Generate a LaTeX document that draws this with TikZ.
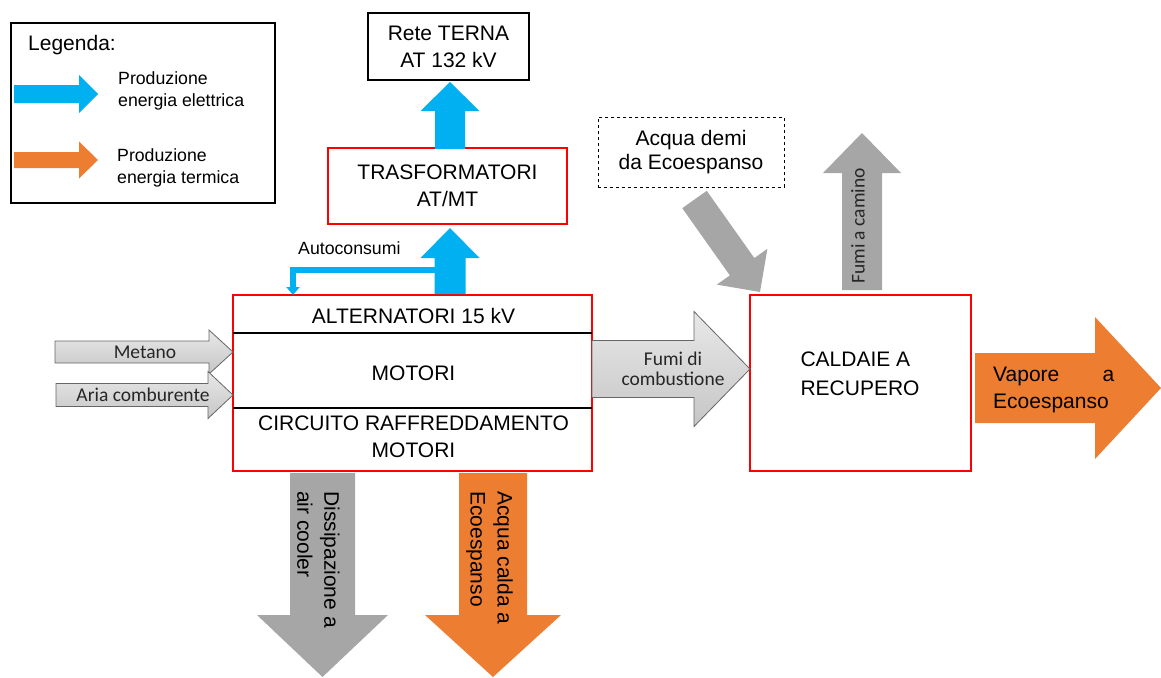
\documentclass[tikz,border=0pt]{standalone}
\usepackage{fontspec}
\setmainfont{Liberation Sans}
\newfontfamily\calibfont{Carlito}
\usetikzlibrary{positioning,calc,arrows.meta}

\definecolor{elettrico}{HTML}{00B0F0}
\definecolor{termico}{HTML}{ED7D31}
\definecolor{grigio}{HTML}{A6A6A6}
\definecolor{rosso}{HTML}{FF0000}

\tikzset{
  boxtxt/.style={font=\fontsize{21}{27}\selectfont, align=center},
  redbox/.style={draw=rosso, line width=2pt, inner sep=0pt, outer sep=0pt},
  smalltxt/.style={font=\fontsize{17.7}{22}\selectfont, align=left, inner sep=0pt},
  caltxt/.style={font=\calibfont\fontsize{19.5}{20}\selectfont, align=center, text=black!85, inner sep=0pt},
  gasarrow/.style={top color=gray!18, bottom color=gray!45, draw=gray!80!black, line width=0.8pt},
  flatgray/.style={fill=grigio},
  elarrow/.style={fill=elettrico},
  termarrow/.style={fill=termico},
}

% freccia piena: stile, da, a, mezzo fusto, mezza punta, lunghezza punta
\newcommand{\flowarrow}[6]{%
  \coordinate (fa-base) at ($(#3)!#6pt!(#2)$);
  \path[#1] ($(#2)!#4pt!90:(#3)$) -- ($(fa-base)!#4pt!90:(#3)$)
    -- ($(fa-base)!#5pt!90:(#3)$) -- (#3)
    -- ($(fa-base)!#5pt!-90:(#3)$) -- ($(fa-base)!#4pt!-90:(#3)$)
    -- ($(#2)!#4pt!-90:(#3)$) -- cycle;
}

\begin{document}
\begin{tikzpicture}[x=1pt, y=-1pt]
  \useasboundingbox (0,0) rectangle (1161,677);

  % 1. blocchi principali
  \node[redbox, minimum width=359pt, minimum height=176pt] (motori) at (412.5,383) {};
  \node[redbox, boxtxt, minimum width=239pt, minimum height=76pt,
        above=71pt of motori, xshift=35pt] (trasf) {TRASFORMATORI\\AT/MT};
  \node[draw, line width=2pt, outer sep=0pt, boxtxt, minimum width=161pt, minimum height=67pt,
        above=68pt of trasf, xshift=1pt] (rete) {Rete TERNA\\AT 132 kV};
  \node[redbox, minimum width=221pt, minimum height=176pt, right=158pt of motori] (caldaie) {};
  \node[draw, dashed, line width=1pt, outer sep=0pt, minimum width=186pt, minimum height=70pt,
        font=\fontsize{21}{24}\selectfont, align=center] (demi) at (691,152) {Acqua demi\\da Ecoespanso};

  % sezioni del blocco motori
  \draw[line width=1.6pt] (motori.west |- 0,333) -- (motori.east |- 0,333);
  \draw[line width=1.6pt] (motori.west |- 0,408) -- (motori.east |- 0,408);
  \node[boxtxt] (t-alt) at (413.5,316) {ALTERNATORI 15 kV};
  \node[boxtxt] (t-mot) at (413.5,373) {MOTORI};
  \node[boxtxt] (t-circ) at (413.5,437) {CIRCUITO RAFFREDDAMENTO\\MOTORI};
  \node[boxtxt, align=left, anchor=west, font=\fontsize{21}{29}\selectfont] (t-cald) at (797,374) {CALDAIE A\\RECUPERO};

  % 2. legenda
  \node[draw, line width=1.2pt, minimum width=264pt, minimum height=180pt] (legenda) at (143,113) {};
  \node[boxtxt, anchor=west, inner sep=0pt] (t-leg) at (28,45) {Legenda:};
  \coordinate (leg-el-a) at (14,94);   \coordinate (leg-el-b) at (98,94);
  \coordinate (leg-th-a) at (14,160);  \coordinate (leg-th-b) at (98,160);
  \flowarrow{elarrow}{leg-el-a}{leg-el-b}{9}{19}{19}
  \flowarrow{termarrow}{leg-th-a}{leg-th-b}{8}{18.5}{19}
  \node[smalltxt, anchor=west] (t-leg-el) at (118,91) {Produzione\\energia elettrica};
  \node[smalltxt, anchor=west] (t-leg-th) at (117,168) {Produzione\\energia termica};

  % 3. frecce elettriche
  \coordinate (el1-a) at (450,294);  \coordinate (el1-b) at (450,228);
  \coordinate (el2-a) at (450,149);  \coordinate (el2-b) at (450,82);
  \flowarrow{elarrow}{el1-a}{el1-b}{15.5}{29.5}{30}
  \flowarrow{elarrow}{el2-a}{el2-b}{15}{29.5}{29}
  \coordinate (autoc-a) at (440,270);  \coordinate (autoc-b) at (293,295);
  \draw[elettrico, line width=6pt, -{Triangle[width=13pt, length=8pt]}] (autoc-a) -| (autoc-b);
  \node[smalltxt, anchor=west] (t-autoc) at (298,248) {Autoconsumi};

  % 4. ingressi e fumi
  \coordinate (metano-a) at (55,352);  \coordinate (metano-b) at (motori.west |- 0,352);
  \coordinate (aria-a) at (56,395);    \coordinate (aria-b) at (motori.west |- 0,395);
  \coordinate (fumi-a) at (motori.east |- 0,369);  \coordinate (fumi-b) at (caldaie.west |- 0,369);
  \flowarrow{gasarrow}{metano-a}{metano-b}{11}{22}{24}
  \flowarrow{gasarrow}{aria-a}{aria-b}{11.5}{23.5}{25}
  \flowarrow{gasarrow}{fumi-a}{fumi-b}{28.5}{57.5}{56}
  \node[caltxt] (t-metano) at (145,352) {Metano};
  \node[caltxt] (t-aria) at (143,395) {Aria comburente};
  \node[caltxt] (t-fumi) at (673,369) {Fumi di\\combustione};

  % 5. caldaie: acqua demi, camino, vapore
  \coordinate (demi-a) at (694.5,199.5);  \coordinate (demi-b) at (760,292);
  \coordinate (camino-a) at (862,290);    \coordinate (camino-b) at (862,133);
  \coordinate (vapore-a) at (975,388);    \coordinate (vapore-b) at (1161,388);
  \flowarrow{flatgray}{demi-a}{demi-b}{15}{31}{31}
  \flowarrow{flatgray}{camino-a}{camino-b}{20}{39}{40}
  \flowarrow{termarrow}{vapore-a}{vapore-b}{35}{71}{66}
  \node[caltxt, rotate=90] (t-camino) at (858,226) {Fumi a camino};
  \node[boxtxt, align=left, anchor=west, inner sep=0pt, text width=121pt] (t-vapore) at (993,390) {Vapore\hfill a\\Ecoespanso};

  % 6. uscite verso il basso
  \coordinate (dissip-a) at (322.5,473);  \coordinate (dissip-b) at (322.5,677);
  \coordinate (calda-a) at (493,473);     \coordinate (calda-b) at (493,677);
  \flowarrow{flatgray}{dissip-a}{dissip-b}{32.5}{65.5}{62}
  \flowarrow{termarrow}{calda-a}{calda-b}{34}{68}{62}
  \node[boxtxt, align=left, rotate=-90, anchor=west, inner sep=0pt] (t-dissip) at (318.5,491) {Dissipazione a\\air cooler};
  \node[boxtxt, align=left, rotate=-90, anchor=west, inner sep=0pt] (t-calda) at (489.5,491) {Acqua calda a\\Ecoespanso};
\end{tikzpicture}
\end{document}
